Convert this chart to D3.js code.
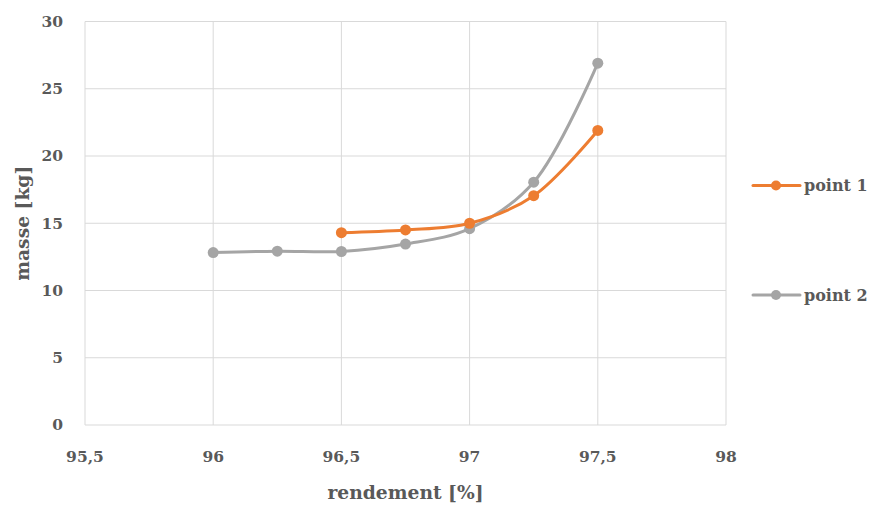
<!DOCTYPE html>
<html><head><meta charset="utf-8">
<script src="https://cdn.jsdelivr.net/npm/d3@7"></script>
<style>body{margin:0;background:#fff}svg{display:block}</style>
</head><body>
<script>
const xValues1 = [96.5, 96.75, 97, 97.25, 97.5];
const yValues1 = [14.3, 14.5, 15.0, 17.05, 21.9];
const xValues2 = [96, 96.25, 96.5, 96.75, 97, 97.25, 97.5];
const yValues2 = [12.82, 12.92, 12.9, 13.45, 14.6, 18.05, 26.9];
const seriesNames = ["point 1", "point 2"];
const xTicks = [95.5, 96, 96.5, 97, 97.5, 98];
const yTicks = [0, 5, 10, 15, 20, 25, 30];
const colors = ["#ED7D31", "#A5A5A5"];

const W = 872, H = 505;
const m = {l: 85, r: 872-726, t: 21.5, b: 505-425};
const svg = d3.select("body").append("svg").attr("width", W).attr("height", H);
const x = d3.scaleLinear().domain([95.5, 98]).range([m.l, W - m.r]);
const y = d3.scaleLinear().domain([0, 30]).range([H - m.b, m.t]);
const font = "'DejaVu Serif', serif";
const tc = "#595959";

// gridlines
svg.append("g").selectAll("line").data(yTicks).join("line")
  .attr("x1", x(95.5)).attr("x2", x(98)).attr("y1", d => y(d)).attr("y2", d => y(d))
  .attr("stroke", "#d9d9d9").attr("stroke-width", 1);
svg.append("g").selectAll("line").data(xTicks).join("line")
  .attr("y1", y(0)).attr("y2", y(30)).attr("x1", d => x(d)).attr("x2", d => x(d))
  .attr("stroke", "#d9d9d9").attr("stroke-width", 1);

// tick labels
const fmt = d => String(d).replace(".", ",");
svg.append("g").selectAll("text").data(yTicks).join("text")
  .attr("x", 63).attr("y", d => y(d)).attr("dy", "0.35em").attr("text-anchor", "end")
  .attr("font-family", font).attr("font-weight", "bold").attr("font-size", 15.5).attr("fill", tc)
  .text(d => d);
svg.append("g").selectAll("text").data(xTicks).join("text")
  .attr("x", d => x(d)).attr("y", 457).attr("dy", "0.35em").attr("text-anchor", "middle")
  .attr("font-family", font).attr("font-weight", "bold").attr("font-size", 15.5).attr("fill", tc)
  .text(fmt);

// axis titles
svg.append("text").attr("x", (x(95.5)+x(98))/2).attr("y", 492).attr("dy", "0.35em")
  .attr("text-anchor", "middle").attr("font-family", font).attr("font-weight", "bold")
  .attr("font-size", 18.7).attr("fill", tc).text("rendement [%]");
svg.append("text").attr("transform", `translate(22,${(y(0)+y(30))/2}) rotate(-90)`).attr("dy", "0.35em")
  .attr("text-anchor", "middle").attr("font-family", font).attr("font-weight", "bold")
  .attr("font-size", 18.7).attr("fill", tc).text("masse [kg]");

const series = [
  xValues1.map((v, i) => [v, yValues1[i]]),
  xValues2.map((v, i) => [v, yValues2[i]])
];
const line = d3.line().x(d => x(d[0])).y(d => y(d[1])).curve(d3.curveCatmullRom.alpha(0.5));

[1, 0].forEach(si => {
  const g = svg.append("g");
  g.append("path").attr("d", line(series[si])).attr("fill", "none")
    .attr("stroke", colors[si]).attr("stroke-width", 3).attr("stroke-linecap", "round");
  g.selectAll("circle").data(series[si]).join("circle")
    .attr("cx", d => x(d[0])).attr("cy", d => y(d[1])).attr("r", 5.5).attr("fill", colors[si]);
});

// legend
const legY = [185.5, 295];
seriesNames.forEach((n, i) => {
  const g = svg.append("g");
  g.append("line").attr("x1", 753).attr("x2", 800).attr("y1", legY[i]).attr("y2", legY[i])
    .attr("stroke", colors[i]).attr("stroke-width", 3).attr("stroke-linecap", "round");
  g.append("circle").attr("cx", 776).attr("cy", legY[i]).attr("r", 5).attr("fill", colors[i]);
  g.append("text").attr("x", 804).attr("y", legY[i]).attr("dy", "0.35em")
    .attr("font-family", font).attr("font-weight", "bold").attr("font-size", 16).attr("fill", tc).text(n);
});
</script>
</body></html>
